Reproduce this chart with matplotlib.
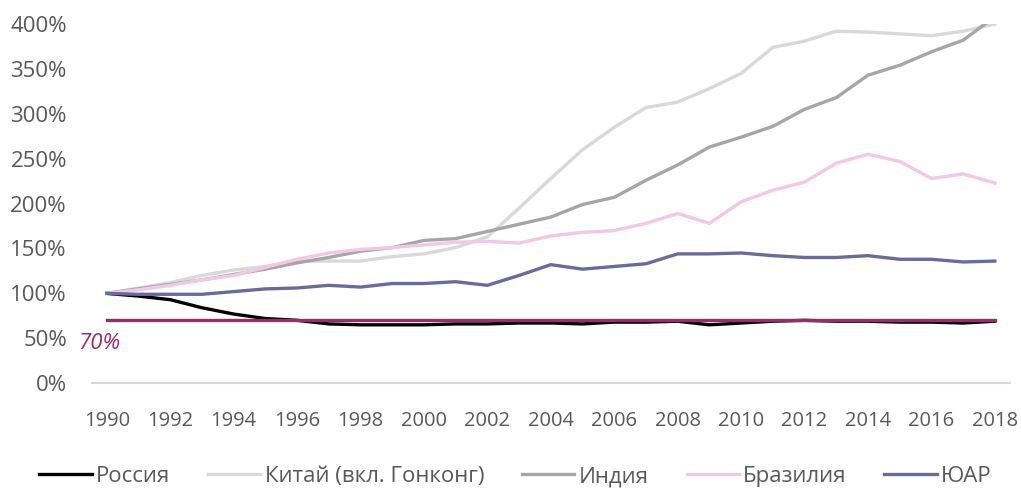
import numpy as np
import matplotlib.pyplot as plt

plt.rcParams['font.family'] = ['Open Sans', 'DejaVu Sans']

years = list(range(1990, 2019))

russia = [100, 97, 93, 84, 77, 72, 70, 66, 65, 65, 65, 66, 66, 67, 67, 66, 68, 68, 69, 65,
          67, 69, 70, 69, 69, 68, 68, 67, 69]
china = [100, 106, 112, 120, 126, 130, 136, 136, 136, 141, 144, 151, 163, 195, 228, 260, 285, 307,
         313, 328, 345, 374, 381, 392, 391, 389, 387, 392, 400]
india = [100, 105, 110, 115, 121, 127, 134, 140, 147, 151, 159, 161, 169, 177, 185, 199, 207, 226,
         243, 263, 274, 286, 305, 318, 343, 354, 369, 382, 408]
brazil = [100, 104, 109, 115, 120, 129, 138, 145, 149, 151, 154, 157, 158, 156, 164, 168, 170, 178,
          189, 178, 202, 215, 224, 245, 255, 247, 228, 233, 223]
sar = [100, 99, 99, 99, 102, 105, 106, 109, 107, 111, 111, 113, 109, 120, 132, 127, 130, 133,
       144, 144, 145, 142, 140, 140, 142, 138, 138, 135, 136]
threshold = 70

series = [
    ('Россия', russia, '#000000'),
    ('Китай (вкл. Гонконг)', china, '#d9d9d9'),
    ('Индия', india, '#a6a6a6'),
    ('Бразилия', brazil, '#f2c8e6'),
    ('ЮАР', sar, '#696ba0'),
]

fig = plt.figure(figsize=(10.21, 4.9), dpi=100)
ax = fig.add_axes([0.090, 0.218, 0.899, 0.733])

ax.plot(years, [threshold] * len(years), color='#a0286e', lw=2.4, zorder=5)
for name, vals, col in series:
    ax.plot(years, vals, color=col, lw=2.4, label=name, solid_joinstyle='round')

ax.text(1989.1, 44, '70%', color='#a0286e', fontsize=16, style='italic', ha='left', va='center')

ax.set_xlim(1989.53, 2018.47)
ax.set_ylim(0, 400)
ax.set_xticks(years[::2])
ax.set_yticks(np.arange(0, 401, 50))
ax.set_yticklabels([f'{v}%' for v in range(0, 401, 50)])

for s in ['top', 'right', 'left']:
    ax.spines[s].set_visible(False)
ax.spines['bottom'].set_color('#d9d9d9')
ax.spines['bottom'].set_linewidth(1.5)
ax.tick_params(axis='both', length=0, colors='#595959')
ax.tick_params(axis='x', pad=20, labelsize=14.5)
ax.tick_params(axis='y', pad=18, labelsize=16)

fig.legend(loc='lower center', ncol=5, frameon=False, fontsize=16, bbox_to_anchor=(0.505, -0.035),
           handlelength=2.35, handletextpad=0.2, columnspacing=1.7, labelcolor='#595959')

fig.savefig('out.png', dpi=100)
